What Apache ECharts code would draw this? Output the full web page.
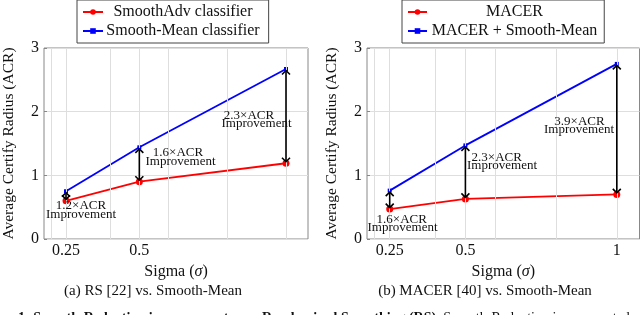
<!DOCTYPE html>
<html>
<head>
<meta charset="utf-8">
<script src="https://cdn.jsdelivr.net/npm/echarts@6/dist/echarts.min.js"></script>
<style>html,body{margin:0;padding:0;background:#fff;}#c{width:640px;height:315px;}</style>
</head>
<body>
<div id="c"></div>
<script>
// ---- data ----
const sigma = [0.25, 0.5, 1];
const smoothAdv = [0.60, 0.90, 1.19];
const smoothMeanA = [0.75, 1.44, 2.67];
const macer = [0.47, 0.63, 0.70];
const macerSmoothMean = [0.76, 1.47, 2.75];
const xTickLabelsA = [0.25, 0.5];
const xTickLabelsB = [0.25, 0.5, 1];
const xGridValues = [0.2, 0.25, 0.4, 0.5, 0.6, 0.8, 1.0];
const improvA = ['1.2×ACR', '1.6×ACR', '2.3×ACR'];
const improvB = ['1.6×ACR', '2.3×ACR', '3.9×ACR'];
const seriesNames = ['SmoothAdv classifier', 'Smooth-Mean classifier', 'MACER', 'MACER + Smooth-Mean'];
const captionA = '(a) RS [22] vs. Smooth-Mean';
const captionB = '(b) MACER [40] vs. Smooth-Mean';
const yName = 'Average Certify Radius (ACR)';

// ---- styling / layout ----
const FONT = '"Liberation Serif", "Times New Roman", serif';
const GRIDC = '#dedede';
const pair = (xs, ys) => xs.map((x, i) => [x, ys[i]]);
const arrows = (xs, lo, hi) => xs.map((x, i) => [x, lo[i], hi[i]]);

// annotation placement: [centerX line1, baseline line1, centerX line2, baseline line2]
const annPosA = [[81, 210, 81, 218.5], [178, 157, 180.5, 165.5], [249, 119.7, 256.5, 128]];
const annPosB = [[401.7, 224, 402.5, 232.3], [496.7, 161.7, 502, 170], [579.5, 125.5, 579, 134]];

function xAxisCfg(gi, labels) {
  return {
    type: 'value', gridIndex: gi, min: 0.175, max: 1.075,
    axisLine: { show: false },
    axisTick: { show: true, inside: true, length: 3, customValues: labels, lineStyle: { color: '#888' } },
    axisLabel: { customValues: labels, fontFamily: FONT, fontSize: 16, color: '#111', margin: 4 },
    splitLine: { show: false },
    name: 'Sigma ({i|σ})', nameLocation: 'middle', nameGap: 24,
    nameTextStyle: { fontFamily: FONT, fontSize: 16, color: '#111', rich: { i: { fontFamily: FONT, fontSize: 16, fontStyle: 'italic', color: '#111' } } }
  };
}
function yAxisCfg(gi) {
  return {
    type: 'value', gridIndex: gi, min: 0, max: 3, interval: 1,
    axisLine: { show: false },
    axisTick: { show: true, inside: true, length: 3, lineStyle: { color: '#888' } },
    axisLabel: { fontFamily: FONT, fontSize: 16, color: '#111', margin: 5 },
    splitLine: { show: true, lineStyle: { color: GRIDC, width: 1 } },
    name: yName, nameLocation: 'middle', nameRotate: 90, nameGap: 27,
    nameTextStyle: { fontFamily: FONT, fontSize: 15.5, color: '#111' }
  };
}
function lineSeries(name, gi, xs, ys, color, symbol, size) {
  return {
    name, type: 'line', xAxisIndex: gi, yAxisIndex: gi, data: pair(xs, ys),
    symbol, symbolSize: size, showSymbol: true,
    lineStyle: { color, width: 1.8 }, itemStyle: { color }, z: 2
  };
}
function gridSeries(gi) {
  return {
    type: 'line', xAxisIndex: gi, yAxisIndex: gi, data: [], z: 0, silent: true,
    markLine: {
      silent: true, symbol: 'none', animation: false, label: { show: false },
      lineStyle: { color: GRIDC, type: 'solid', width: 1 },
      data: xGridValues.map(v => ({ xAxis: v }))
    }
  };
}
function arrowSeries(gi, data) {
  return {
    type: 'custom', xAxisIndex: gi, yAxisIndex: gi, data, z: 5, silent: true,
    encode: { x: 0, y: [1, 2] },
    renderItem: (params, api) => {
      const x = api.value(0), lo = api.value(1), hi = api.value(2);
      const p1 = api.coord([x, lo]), p2 = api.coord([x, hi]);
      const b = p1[1] - 1.5, t = p2[1] + 1.5, cx = p1[0];
      const st = { stroke: '#000', fill: null, lineWidth: 1.6 };
      return {
        type: 'group', children: [
          { type: 'line', shape: { x1: cx, y1: b, x2: cx, y2: t }, style: st },
          { type: 'polyline', shape: { points: [[cx - 4, t + 4], [cx, t], [cx + 4, t + 4]] }, style: st },
          { type: 'polyline', shape: { points: [[cx - 4, b - 4], [cx, b], [cx + 4, b - 4]] }, style: st }
        ]
      };
    }
  };
}
function legendCfg(names, left, iconW, textW, padR) {
  return {
    data: names, orient: 'vertical', left, top: 0,
    padding: [4, padR, 4, 5], itemGap: 3, itemWidth: iconW, itemHeight: 7, itemTextGap: 3,
    backgroundColor: '#fff', borderColor: '#444', borderWidth: 1, borderRadius: 0,
    formatter: n => '{t|' + n + '}',
    textStyle: { fontFamily: FONT, fontSize: 16, color: '#111', lineHeight: 14,
      rich: { t: { width: textW, align: 'center', fontFamily: FONT, fontSize: 16, lineHeight: 14, color: '#111' } } },
    selectedMode: false
  };
}
function annText(txts, pos) {
  const out = [];
  txts.forEach((t, i) => {
    const p = pos[i];
    out.push({ type: 'text', silent: true, z: 10, style: { text: t, x: p[0], y: p[1] - 4.4, align: 'center', verticalAlign: 'middle', font: '13px ' + FONT, fill: '#111' } });
    out.push({ type: 'text', silent: true, z: 10, style: { text: 'Improvement', x: p[2], y: p[3] - 4.4, align: 'center', verticalAlign: 'middle', font: '13px ' + FONT, fill: '#111' } });
  });
  return out;
}

const chart = echarts.init(document.getElementById('c'), null, { renderer: 'canvas' });
chart.setOption({
  animation: false,
  backgroundColor: '#fff',
  grid: [
    { left: 36, top: 48, width: 272, height: 191, show: true, borderColor: '#888', borderWidth: 1, backgroundColor: 'transparent' },
    { left: 367, top: 48, width: 272.5, height: 191, show: true, borderColor: '#888', borderWidth: 1, backgroundColor: 'transparent' }
  ],
  xAxis: [xAxisCfg(0, xTickLabelsA), xAxisCfg(1, xTickLabelsB)],
  yAxis: [yAxisCfg(0), yAxisCfg(1)],
  legend: [
    legendCfg([seriesNames[0], seriesNames[1]], 77, 20, 150, 9),
    legendCfg([seriesNames[2], seriesNames[3]], 402, 19, 165, 7)
  ],
  title: [
    { text: captionA, left: 153, top: 284, textAlign: 'center', padding: 0, textStyle: { fontFamily: FONT, fontSize: 15, fontWeight: 'normal', color: '#111' } },
    { text: captionB, left: 485, top: 284, textAlign: 'center', padding: 0, textStyle: { fontFamily: FONT, fontSize: 15, fontWeight: 'normal', color: '#111' } }
  ],
  graphic: annText(improvA, annPosA).concat(annText(improvB, annPosB)).concat([
    { type: 'text', silent: true, style: { x: 18, y: 318, verticalAlign: 'middle', align: 'left',
      text: '{b|1: Smooth-Reduction improvement over Randomized Smoothing (RS).} Smooth-Reduction is represented as hi',
      font: '14px ' + FONT, fill: '#111',
      rich: { b: { fontWeight: 'bold', fontFamily: FONT, fontSize: 14, fill: '#111' } } } }
  ]),
  series: [
    gridSeries(0), gridSeries(1),
    lineSeries(seriesNames[0], 0, sigma, smoothAdv, '#ff0000', 'circle', 7),
    lineSeries(seriesNames[1], 0, sigma, smoothMeanA, '#0000ff', 'rect', 4),
    lineSeries(seriesNames[2], 1, sigma, macer, '#ff0000', 'circle', 7),
    lineSeries(seriesNames[3], 1, sigma, macerSmoothMean, '#0000ff', 'rect', 4),
    arrowSeries(0, arrows(sigma, smoothAdv, smoothMeanA)),
    arrowSeries(1, arrows(sigma, macer, macerSmoothMean))
  ]
});
</script>
</body>
</html>
